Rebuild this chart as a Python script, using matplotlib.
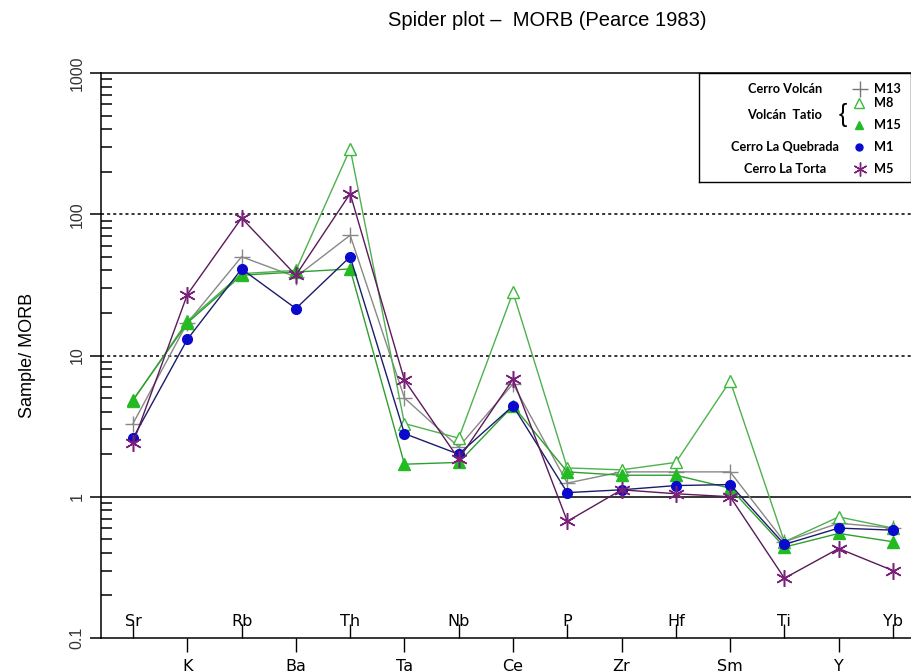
import matplotlib
matplotlib.use("Agg")
import matplotlib.pyplot as plt
from matplotlib.ticker import FixedLocator, NullFormatter
import numpy as np

# Elementos (orden del diagrama)
elements = ["Sr", "K", "Rb", "Ba", "Th", "Ta", "Nb", "Ce", "P", "Zr", "Hf", "Sm", "Ti", "Y", "Yb"]

# Muestra / MORB
m13 = [3.3, 17, 50, 36, 71, 5.0, 2.25, 6.3, 1.25, 1.5, 1.5, 1.5, 0.48, 0.65, 0.6]
m8 = [4.8, 17.5, 38, 40, 290, 3.3, 2.6, 28, 1.6, 1.55, 1.75, 6.6, 0.48, 0.72, 0.6]
m15 = [4.85, 17, 37, 39, 41, 1.7, 1.75, 4.4, 1.5, 1.42, 1.42, 1.15, 0.44, 0.55, 0.48]
m1 = [2.6, 13, 41, 21.5, 50, 2.8, 2.0, 4.4, 1.07, 1.12, 1.2, 1.22, 0.46, 0.6, 0.58]
m5 = [2.4, 27, 94, 37, 140, 6.7, 1.85, 6.8, 0.67, 1.12, 1.05, 1.0, 0.265, 0.43, 0.3]

yticks = [0.1, 1, 10, 100, 1000]
ytick_labels = ["0.1", "1", "10", "100", "1000"]

narrow = ["Liberation Sans Narrow", "DejaVu Sans Condensed", "DejaVu Sans"]
plt.rcParams["font.family"] = ["Liberation Sans", "DejaVu Sans"]

fig = plt.figure(figsize=(9.12, 6.72), dpi=100)
ax = fig.add_axes([101 / 912, 34 / 672, 811 / 912, 565 / 672])
x = np.arange(len(elements))

asterisk = (6, 2, 0)
ax.plot(x, m13, color="#888888", lw=1, marker="+", ms=11, mew=1, zorder=3)
ax.plot(x, m8, color="#4fb04f", lw=1, marker="^", ms=9, mfc="white", mec="#3cb83c", mew=1, zorder=3)
ax.plot(x, m15, color="#2f9f2f", lw=1, marker="^", ms=8, mfc="#22bb22", mec="#22bb22", zorder=4)
ax.plot(x, m1, color="#1c1c6a", lw=1, marker="o", ms=7, mfc="#0a0acc", mec="#0a0acc", zorder=4)
ax.plot(x, m5, color="#5a1a5a", lw=1, marker=asterisk, ms=12, mec="#7a207a", mew=1.1, zorder=5)

ax.set_yscale("log")
ax.set_ylim(0.1, 1000)
ax.set_xlim(-0.59, 14.35)

# lineas de referencia
ax.axhline(100, color="black", lw=1.1, ls=(0, (2, 2)), zorder=1)
ax.axhline(10, color="black", lw=1.1, ls=(0, (2, 2)), zorder=1)
ax.axhline(1, color="black", lw=1.1, zorder=1)

ax.spines["right"].set_visible(False)
for s in ["top", "left", "bottom"]:
    ax.spines[s].set_linewidth(1.1)

# eje y
ax.yaxis.set_major_locator(FixedLocator(yticks))
ax.set_yticklabels(ytick_labels, va="center")
minor = [m * 10.0 ** e for e in range(-1, 3) for m in range(2, 10)]
ax.yaxis.set_minor_locator(FixedLocator(minor))
ax.yaxis.set_minor_formatter(NullFormatter())
ax.tick_params(axis="y", which="major", direction="out", length=8, width=1.1, pad=4,
               labelsize=11.5, labelrotation=90, labelcolor="#333333")
ax.tick_params(axis="y", which="minor", direction="in", length=8, width=1.1)

# eje x: etiquetas alternadas
ax.set_xticks(x[1::2])
ax.set_xticklabels(elements[1::2], family=narrow)
ax.set_xticks(x[0::2], minor=True)
ax.set_xticklabels(elements[0::2], minor=True, family=narrow)
ax.tick_params(axis="x", which="major", direction="out", length=10, width=1, pad=5, labelsize=11.5)
ax.tick_params(axis="x", which="minor", direction="in", length=10, width=1, pad=-17, labelsize=11.5)

ax.set_ylabel("Sample/ MORB", fontsize=13, labelpad=24)
fig.text(547 / 912, 1 - 21 / 672, "Spider plot \u2013  MORB (Pearce 1983)", ha="center", va="center", fontsize=14.5)

# leyenda
lg = fig.add_axes([699 / 912, (672 - 182) / 672, 212 / 912, 109 / 672])
lg.set_xlim(0, 212)
lg.set_ylim(109, 0)
lg.set_xticks([])
lg.set_yticks([])
for s in lg.spines.values():
    s.set_linewidth(1)
lab = dict(fontsize=9.2, fontweight="bold", va="center", family=["Lato", "DejaVu Sans"])
lg.text(86, 16, "Cerro Volcán", ha="center", **lab)
lg.text(86, 42, "Volcán  Tatio", ha="center", **lab)
lg.text(86, 74, "Cerro La Quebrada", ha="center", **lab)
lg.text(86, 96, "Cerro La Torta", ha="center", **lab)
lg.text(144, 42, "{", fontsize=18, va="center", ha="center")
lg.plot([161], [16], marker="+", color="#777777", ms=11, mew=1)
lg.plot([160], [30], marker="^", ms=7, mfc="white", mec="#3cb83c")
lg.plot([160], [52], marker="^", ms=6, color="#22bb22")
lg.plot([160], [74], marker="o", ms=5, color="#0a0acc")
lg.plot([161], [96], marker=asterisk, ms=10, mec="#7a207a", mew=1)
lg.text(175, 16, "M13", ha="left", **lab)
lg.text(175, 30, "M8", ha="left", **lab)
lg.text(175, 52, "M15", ha="left", **lab)
lg.text(175, 74, "M1", ha="left", **lab)
lg.text(175, 96, "M5", ha="left", **lab)

fig.savefig("out.png", dpi=100)
